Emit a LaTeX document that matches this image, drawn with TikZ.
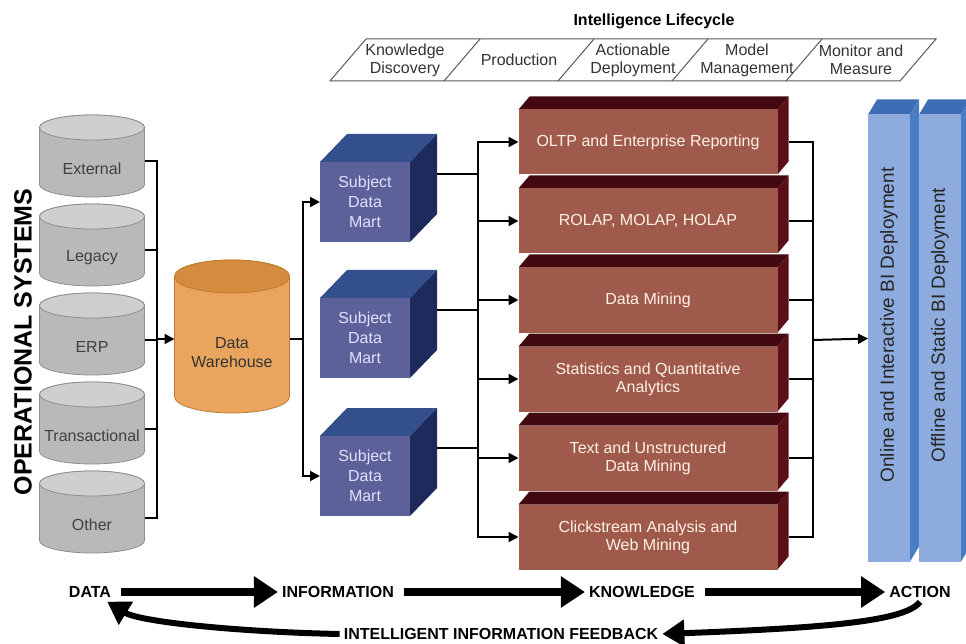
\documentclass[tikz,border=0pt]{standalone}
\usepackage{fontspec}
\setmainfont{Liberation Sans}
\usetikzlibrary{positioning,arrows.meta}
\pgfdeclarelayer{back}
\pgfsetlayers{back,main}
\definecolor{opBody}{HTML}{B9B9B9}
\definecolor{opTop}{HTML}{CFCFCF}
\definecolor{opLine}{HTML}{8E8E8E}
\definecolor{dwBody}{HTML}{E9A55E}
\definecolor{dwTop}{HTML}{D68C3E}
\definecolor{dwLine}{HTML}{C07A30}
\definecolor{martFront}{HTML}{5D6199}
\definecolor{martTop}{HTML}{34508C}
\definecolor{martSide}{HTML}{1E2A5C}
\definecolor{toolFront}{HTML}{A05A4B}
\definecolor{toolTop}{HTML}{420A10}
\definecolor{toolSide}{HTML}{5C0F17}
\definecolor{depFront}{HTML}{8EABDD}
\definecolor{depTop}{HTML}{3E6DB5}
\definecolor{depSide}{HTML}{4A7CC4}
\tikzset{
  opsys/.style={rectangle, minimum width=105pt, minimum height=57pt, inner sep=0pt, outer sep=0pt, align=center, font=\fontsize{16}{19}\selectfont, text=black!75},
  whouse/.style={rectangle, minimum width=115pt, minimum height=120pt, inner sep=0pt, outer sep=0pt, align=center, font=\fontsize{16}{19}\selectfont, text=black!80},
  mart/.style={rectangle, fill=martFront, minimum width=90pt, minimum height=80pt, inner sep=0pt, outer sep=0pt, align=center, text=white!88!blue, font=\fontsize{16}{20}\selectfont},
  tool/.style={rectangle, fill=toolFront, minimum width=259pt, minimum height=65pt, inner sep=0pt, outer sep=0pt, align=center, text=white!90!orange, font=\fontsize{16}{18}\selectfont},
  deploy/.style={rectangle, fill=depFront, minimum width=42pt, minimum height=447pt, inner sep=0pt, outer sep=0pt},
  dtext/.style={yshift=13pt, rotate=90, font=\fontsize{19}{21}\selectfont, text=black!85},
  lc/.style={align=center, inner sep=0pt, font=\fontsize{16}{18}\selectfont, text=black!80},
  frame/.style={draw=black!65, line width=1pt},
  heading/.style={font=\bfseries\fontsize{16}{18}\selectfont},
  sidehead/.style={rotate=90, font=\bfseries\fontsize{25}{27}\selectfont},
  stage/.style={inner sep=4pt, font=\bfseries\fontsize{16}{18}\selectfont},
  bus/.style={draw=black, line width=2pt},
  conn/.style={draw=black, line width=2pt, -{Triangle[length=10pt,width=10pt]}},
  flow/.style={line width=8pt, shorten <=6pt, -{Triangle[length=24pt,width=30pt]}},
  fbk/.style={line width=6pt, -{Triangle[length=22pt,width=26pt]}}
}
% top and side face of a box node: node, dx, dy, top colour, side colour
\newcommand{\boxfaces}[5]{%
  \begin{pgfonlayer}{back}
  \fill[#4] (#1.north west) -- ++(#2,-#3) -- ([shift={(#2,-#3)}]#1.north east) -- (#1.north east) -- cycle;
  \fill[#5] (#1.north east) -- ++(#2,-#3) -- ([shift={(#2,-#3)}]#1.south east) -- (#1.south east) -- cycle;
  \end{pgfonlayer}
}
% drum round a node: node, x radius, y radius, body colour, top colour, line colour
\newcommand{\drum}[6]{%
  \begin{pgfonlayer}{back}
  \filldraw[fill=#4, draw=#6, line width=0.8pt] ([yshift=#3]#1.north west) -- ([yshift=#3]#1.south west)
    arc[start angle=180, end angle=360, x radius=#2, y radius=#3] -- ([yshift=#3]#1.north east)
    arc[start angle=0, end angle=180, x radius=#2, y radius=#3] -- cycle;
  \filldraw[fill=#5, draw=#6, line width=0.8pt] ([yshift=#3]#1.north) ellipse [x radius=#2, y radius=#3];
  \end{pgfonlayer}
}

\begin{document}
\begin{tikzpicture}[x=1pt, y=-1pt]
  \useasboundingbox (0,0) rectangle (966,644);

  % intelligence lifecycle
  \node[heading] (lchead) at (654,21) {Intelligence Lifecycle};
  \draw[frame] (330,81) -- (366,39) -- (936,39) -- (900,81) -- cycle;
  \draw[frame] (444,81) -- (480,39);
  \draw[frame] (558,81) -- (594,39);
  \draw[frame] (672,81) -- (708,39);
  \draw[frame] (786,81) -- (822,39);
  \node[lc] (lc1) at (405,60) {Knowledge\\Discovery};
  \node[lc] (lc2) at (519,60) {Production};
  \node[lc] (lc3) at (633,60) {Actionable\\Deployment};
  \node[lc] (lc4) at (747,60) {Model\\Management};
  \node[lc] (lc5) at (861,60) {Monitor and\\Measure};

  % operational systems
  \node[sidehead] (ophead) at (23,342) {OPERATIONAL SYSTEMS};
  \node[opsys] (ext) at (92,168.5) {External};
  \node[opsys] (leg) at (92,257.5) {Legacy};
  \node[opsys] (erp) at (92,346.5) {ERP};
  \node[opsys] (trn) at (92,435.5) {Transactional};
  \node[opsys] (oth) at (92,524.5) {Other};
  \drum{ext}{52.5pt}{12.5pt}{opBody}{opTop}{opLine}
  \drum{leg}{52.5pt}{12.5pt}{opBody}{opTop}{opLine}
  \drum{erp}{52.5pt}{12.5pt}{opBody}{opTop}{opLine}
  \drum{trn}{52.5pt}{12.5pt}{opBody}{opTop}{opLine}
  \drum{oth}{52.5pt}{12.5pt}{opBody}{opTop}{opLine}
  \coordinate (bus1) at (157,339);
  \draw[bus] ([yshift=7pt]ext.east) -| (bus1);
  \draw[bus] ([yshift=7pt]leg.east) -| (bus1);
  \draw[bus] ([yshift=7pt]erp.east) -| (bus1);
  \draw[bus] ([yshift=7pt]trn.east) -| (bus1);
  \draw[bus] ([yshift=7pt]oth.east) -| (bus1);

  % warehouse
  \node[whouse] (dw) at (232,353) {Data\\Warehouse};
  \drum{dw}{57.5pt}{16.5pt}{dwBody}{dwTop}{dwLine}
  \draw[conn] (bus1) -- (bus1 -| dw.west);
  \coordinate (bus2) at (303,339);
  \draw[bus] (bus2 -| dw.east) -- (bus2);

  % data marts
  \node[mart] (m1) at (365,202) {Subject\\Data\\Mart};
  \node[mart] (m2) at (365,338) {Subject\\Data\\Mart};
  \node[mart] (m3) at (365,476) {Subject\\Data\\Mart};
  \boxfaces{m1}{27}{28}{martTop}{martSide}
  \boxfaces{m2}{27}{28}{martTop}{martSide}
  \boxfaces{m3}{27}{28}{martTop}{martSide}
  \draw[conn] (bus2) |- (m1);
  \draw[conn] (bus2) |- (m3);
  \path ([shift={(27,-28)}]m1.east) coordinate (m1o)
        ([shift={(27,-28)}]m2.east) coordinate (m2o)
        ([shift={(27,-28)}]m3.east) coordinate (m3o);
  \coordinate (bus3) at (478,339);
  \draw[bus] (m1o) -| (bus3);
  \draw[bus] (m2o) -| (bus3);
  \draw[bus] (m3o) -| (bus3);

  % analysis tools
  \node[tool] (t1) at (648,142) {OLTP and Enterprise Reporting};
  \node[tool] (t2) at (648,221) {ROLAP, MOLAP, HOLAP};
  \node[tool] (t3) at (648,300) {Data Mining};
  \node[tool] (t4) at (648,379) {Statistics and Quantitative\\Analytics};
  \node[tool] (t5) at (648,458) {Text and Unstructured\\Data Mining};
  \node[tool] (t6) at (648,537) {Clickstream Analysis and\\Web Mining};
  \boxfaces{t1}{11}{13}{toolTop}{toolSide}
  \boxfaces{t2}{11}{13}{toolTop}{toolSide}
  \boxfaces{t3}{11}{13}{toolTop}{toolSide}
  \boxfaces{t4}{11}{13}{toolTop}{toolSide}
  \boxfaces{t5}{11}{13}{toolTop}{toolSide}
  \boxfaces{t6}{11}{13}{toolTop}{toolSide}
  \draw[conn] (bus3) |- (t1);
  \draw[conn] (bus3) |- (t2);
  \draw[conn] (bus3) |- (t3);
  \draw[conn] (bus3) |- (t4);
  \draw[conn] (bus3) |- (t5);
  \draw[conn] (bus3) |- (t6);
  \path ([xshift=11pt]t1.east) coordinate (t1o)
        ([xshift=11pt]t2.east) coordinate (t2o)
        ([xshift=11pt]t3.east) coordinate (t3o)
        ([xshift=11pt]t4.east) coordinate (t4o)
        ([xshift=11pt]t5.east) coordinate (t5o)
        ([xshift=11pt]t6.east) coordinate (t6o);
  \coordinate (bus4) at (813,340);
  \draw[bus] (t1o) -| (bus4);
  \draw[bus] (t2o) -| (bus4);
  \draw[bus] (t3o) -| (bus4);
  \draw[bus] (t4o) -| (bus4);
  \draw[bus] (t5o) -| (bus4);
  \draw[bus] (t6o) -| (bus4);

  % deployment
  \node[deploy, label={[dtext]center:Online and Interactive BI Deployment}] (d1) at (889,338) {};
  \boxfaces{d1}{9}{15}{depTop}{depSide}
  \node[deploy, label={[dtext]center:Offline and Static BI Deployment}] (d2) at (940,338) {};
  \boxfaces{d2}{9}{15}{depTop}{depSide}
  \draw[conn] (bus4) -- (d1);

  % data to action
  \node[stage] (data) at (90,592) {DATA};
  \node[stage] (info) at (338,592) {INFORMATION};
  \node[stage] (know) at (642,592) {KNOWLEDGE};
  \node[stage] (act) at (920,592) {ACTION};
  \node[stage] (fb) at (501,634) {INTELLIGENT INFORMATION FEEDBACK};
  \draw[flow] (data) -- (info);
  \draw[flow] (info) -- (know);
  \draw[flow] (know) -- (act);
  \draw[fbk] (act.south) .. controls (905,622) and (820,628) .. (fb.east);
  \draw[fbk] (fb.west) .. controls (240,632) and (140,622) .. ([xshift=-8pt]data.south east);
\end{tikzpicture}
\end{document}
